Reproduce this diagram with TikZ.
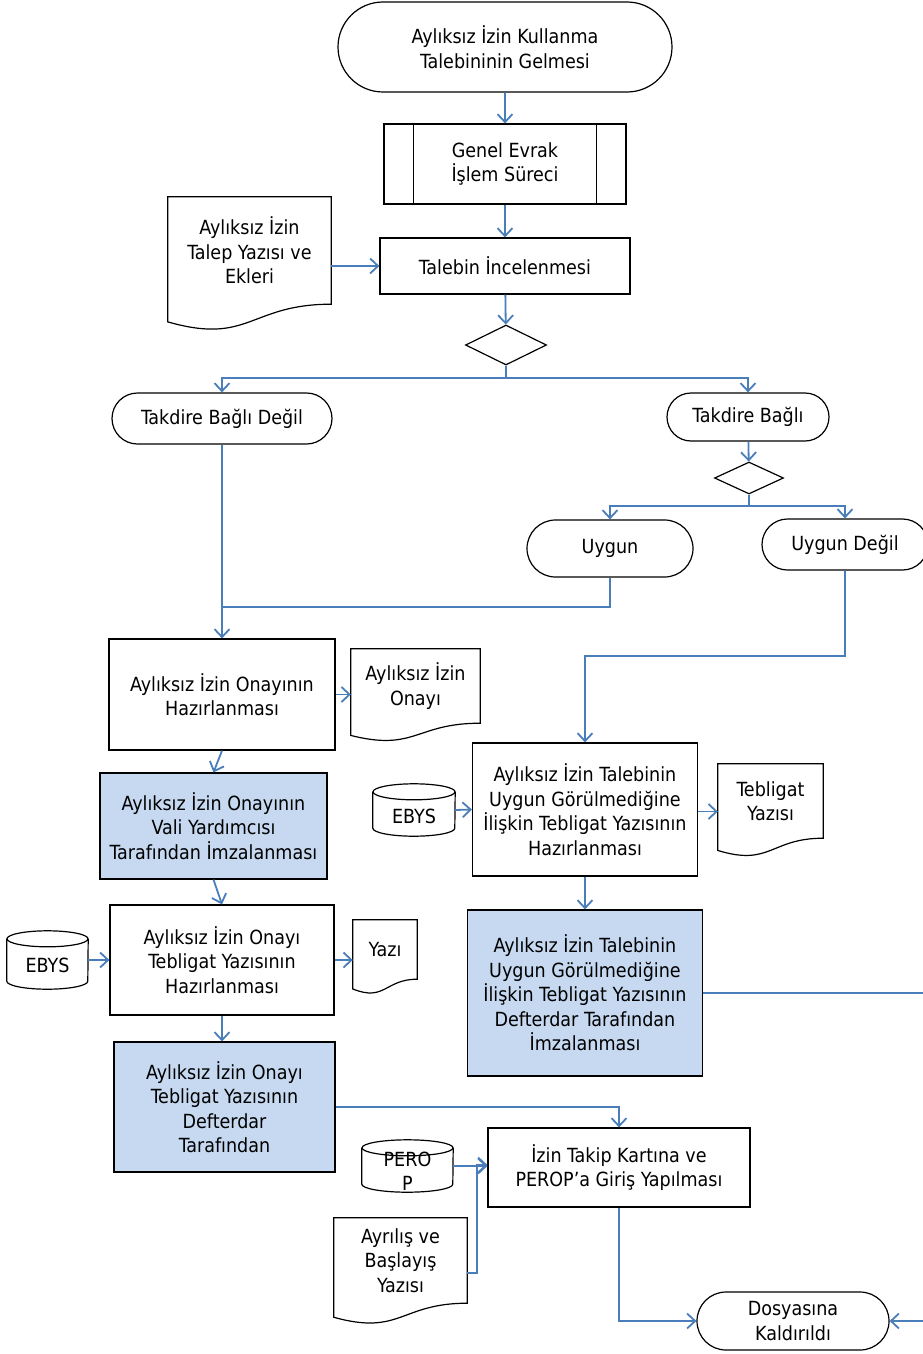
\documentclass[tikz,border=0pt]{standalone}
\usepackage{fontspec}
\setmainfont{DejaVu Sans Condensed}
\usetikzlibrary{shapes.geometric,shapes.misc,arrows.meta,calc}
\definecolor{lineblue}{RGB}{74,126,187}
\definecolor{fillblue}{RGB}{198,217,241}
\newcommand\mydoc[1]{\draw[shp] (#1.north west) -- (#1.north east) -- (#1.south east) .. controls (#1.south) and ($(#1.south)!-0.3828!(#1.north)$) .. ($(#1.south west)!-0.1646!(#1.north west)$) -- cycle;}
\newcommand\mycyl[3]{\draw[shp] (#1.north west) -- (#1.south west) arc[start angle=180,end angle=360,x radius=#2,y radius=#3] -- (#1.north east);
 \draw[shp] (#1.north) ellipse [x radius=#2, y radius=#3];}
\newcommand\mysub[2]{\draw[shp] ([xshift=#2]#1.north west) -- ([xshift=#2]#1.south west); \draw[shp] ([xshift=-#2]#1.north east) -- ([xshift=-#2]#1.south east);}
\newcommand\mydown[2]{\raisebox{-#1}[\height][\depth]{#2}}
\begin{document}
\begin{tikzpicture}[x=1pt,y=1pt,
  shp/.style={draw=black, line width=1.2pt},
  base/.style={inner sep=0pt, align=center, font=\fontsize{19.5}{24.5}\selectfont},
  term/.style={base, shp, rounded rectangle, minimum width=#1},
  proc/.style={base, shp, rectangle},
  bluebox/.style={base, shp, rectangle, fill=fillblue},
  docn/.style={base, rectangle},
  cyln/.style={base, rectangle},
  dec/.style={shp, diamond, inner sep=0pt},
  conn/.style={draw=lineblue, line width=1.8pt, -{Straight Barb[length=8pt,width=15pt]}},
  connl/.style={draw=lineblue, line width=1.8pt}
]
\useasboundingbox (0,0) rectangle (922,-1354);
\fill[white] (0,0) rectangle (922,-1354);

% nodes
\node[term=334pt, minimum height=90pt] (start) at (505,-47) {Aylıksız İzin Kullanma\\Talebininin Gelmesi};
\node[proc, minimum width=242pt, minimum height=80pt] (genel) at (505,-164) {Genel Evrak\\İşlem Süreci};
\mysub{genel}{30pt}
\node[docn, minimum width=163pt, minimum height=107pt] (talep) at (249.5,-250.5) {Aylıksız İzin\\Talep Yazısı ve\\Ekleri};
\mydoc{talep}
\node[proc, minimum width=250pt, minimum height=56pt] (talebin) at (505,-266) {Talebin İncelenmesi};
\node[dec, minimum width=81pt, minimum height=40pt] (d1) at (506,-345) {};
\node[term=220pt, minimum height=51pt] (tbd) at (222,-418.5) {Takdire Bağlı Değil};
\node[term=162pt, minimum height=48pt] (tb) at (748,-417) {Takdire Bağlı};
\node[dec, minimum width=69pt, minimum height=32pt] (d2) at (749,-478) {};
\node[term=166pt, minimum height=57pt] (uygun) at (610,-548.5) {Uygun};
\node[term=166pt, minimum height=51pt] (uygund) at (845,-544.5) {Uygun Değil};

\node[proc, minimum width=226pt, minimum height=111pt] (onayh) at (222,-694.5) {Aylıksız İzin Onayının\\Hazırlanması};
\node[docn, minimum width=129pt, minimum height=74pt] (onaydoc) at (415.5,-686) {Aylıksız İzin\\Onayı};
\mydoc{onaydoc}
\node[bluebox, minimum width=227pt, minimum height=106pt] (vali) at (213.5,-826) {Aylıksız İzin Onayının\\Vali Yardımcısı\\Tarafından İmzalanması};
\node[proc, minimum width=224pt, minimum height=110pt] (tebh) at (222,-960) {Aylıksız İzin Onayı\\Tebligat Yazısının\\Hazırlanması};
\node[cyln, minimum width=81pt, minimum height=42pt] (ebys1) at (47.5,-960) {\mydown{5pt}{EBYS}};
\mycyl{ebys1}{40.5pt}{8pt}
\node[docn, minimum width=64pt, minimum height=59pt] (yazi) at (385,-949.5) {Yazı};
\mydoc{yazi}
\node[bluebox, minimum width=221pt, minimum height=130pt] (defh) at (224.5,-1107) {Aylıksız İzin Onayı\\Tebligat Yazısının\\Defterdar\\Tarafından};

\node[proc, minimum width=225pt, minimum height=133pt] (talh) at (585,-809.5) {Aylıksız İzin Talebinin\\Uygun Görülmediğine\\İlişkin Tebligat Yazısının\\Hazırlanması};
\node[cyln, minimum width=82pt, minimum height=36pt] (ebys2) at (414,-810) {\mydown{6pt}{EBYS}};
\mycyl{ebys2}{41pt}{8pt}
\node[docn, minimum width=105pt, minimum height=74pt] (tebdoc) at (770.5,-801) {Tebligat\\Yazısı};
\mydoc{tebdoc}
\node[bluebox, minimum width=235pt, minimum height=166pt] (tald) at (585,-993) {Aylıksız İzin Talebinin\\Uygun Görülmediğine\\İlişkin Tebligat Yazısının\\Defterdar Tarafından\\İmzalanması};

\node[proc, minimum width=262pt, minimum height=79pt] (izin) at (619,-1167.5) {İzin Takip Kartına ve\\PEROP'a Giriş Yapılması};
\node[cyln, minimum width=91pt, minimum height=36pt] (perop) at (407.5,-1166) {\raisebox{-13pt}[0pt][0pt]{\begin{tabular}{@{}c@{}}PERO\\P\end{tabular}}};
\mycyl{perop}{45.5pt}{8pt}
\node[docn, minimum width=133pt, minimum height=85pt] (ayr) at (400.5,-1260.5) {Ayrılış ve\\Başlayış\\Yazısı};
\mydoc{ayr}
\node[term=192pt, minimum height=58pt] (dosya) at (793,-1321) {Dosyasına\\Kaldırıldı};

% coordinates
\coordinate (j1) at (506,-378);
\coordinate (j2) at (749,-506);
\coordinate (m1) at (222,-607);
\coordinate (m2) at (845,-656);
\coordinate (k1) at (477,-1165);
\coordinate (r1) at (935,-993);

% connectors
\draw[conn] (start) -- (genel);
\draw[conn] (genel) -- (talebin);
\draw[conn] (talebin.west -| talep.east) -- (talebin.west);
\draw[conn] (talebin) -- (d1);
\draw[connl] (d1.south) -- (j1);
\draw[conn] (j1) -| (tbd.north);
\draw[conn] (j1) -| (tb.north);
\draw[conn] (tb) -- (d2);
\draw[connl] (d2.south) -- (j2);
\draw[conn] (j2) -| (uygun.north);
\draw[conn] (j2) -| (uygund.north);
\draw[conn] (tbd.south) -- (onayh.north);
\draw[connl] (uygun.south) |- (m1);
\draw[conn] (onayh.east) -- (onayh.east -| onaydoc.west);
\draw[conn] (onayh.south) -- (vali.north);
\draw[conn] (vali.south) -- (tebh.north);
\draw[conn] (ebys1.east) -- (tebh.west);
\draw[conn] (tebh.east) -- (tebh.east -| yazi.west);
\draw[conn] (tebh.south) -- (tebh.south |- defh.north);
\draw[conn] (defh.east) -| (izin.north);
\draw[conn] (uygund.south) -- (m2) -| (talh.north);
\draw[conn] (ebys2.east) -- (talh.west);
\draw[conn] ([yshift=-2pt]talh.east) -- ([yshift=-2pt]talh.east -| tebdoc.west);
\draw[conn] (talh.south) -- (tald.north);
\draw[conn] (perop.east) -- (perop.east -| izin.west);
\draw[conn] ([yshift=-12.5pt]ayr.east) -| (k1) -- (k1 -| izin.west);
\draw[conn] (izin.south) |- (dosya.west);
\draw[conn] (tald.east) -- (r1) |- (dosya.east);
\end{tikzpicture}
\end{document}
